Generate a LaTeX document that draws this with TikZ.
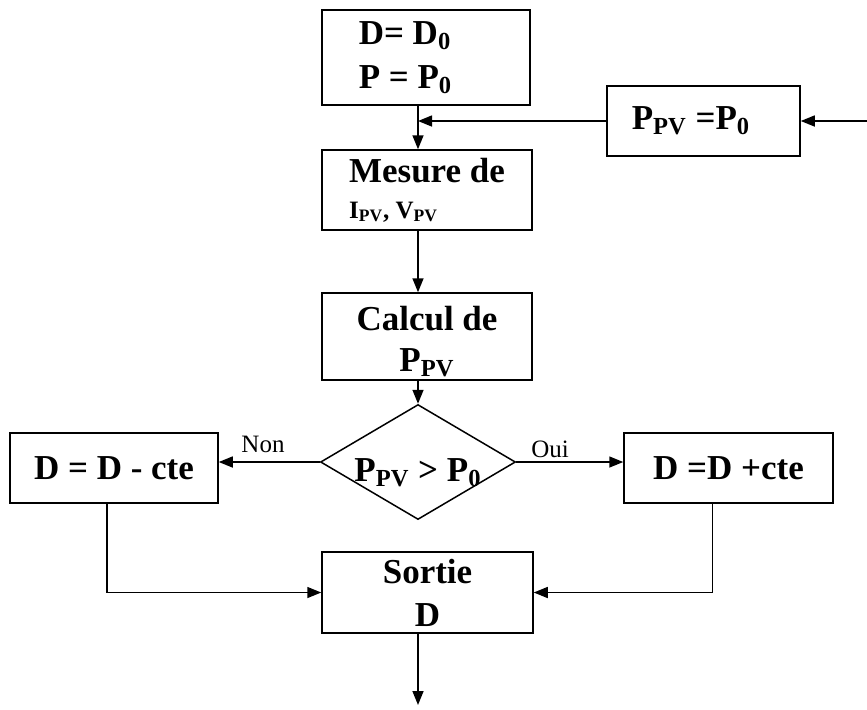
\documentclass[tikz,border=0pt]{standalone}
\usepackage{fontspec}
\setmainfont{Liberation Serif}
\usetikzlibrary{arrows.meta,positioning,shapes.geometric,calc}

\begin{document}
\begin{tikzpicture}[x=0.5pt,y=-0.5pt,line width=0.75pt,
  box/.style={draw,rectangle,inner sep=0pt,align=center,
    font=\bfseries\fontsize{17.5}{22}\selectfont},
  test/.style={draw,diamond,aspect=1.7,inner sep=0pt,
    minimum width=97.5pt,minimum height=57.5pt,
    font=\bfseries\fontsize{17.5}{20}\selectfont},
  lab/.style={font=\fontsize{12.5}{14}\selectfont},
  fleche/.style={-{Triangle[length=7pt,width=5.5pt]}}]
\useasboundingbox (0,0) rectangle (867,709);
% blocs
\node[box,align=left,minimum width=104pt,minimum height=47.5pt] (init) at (426,57.5)
  {D= D\textsubscript{0}\rule{21pt}{0pt}\\P = P\textsubscript{0}};
\node[box,align=left,minimum width=96.5pt,minimum height=35pt] (ppvinit) at (703.5,121)
  {P\textsubscript{PV} =P\textsubscript{0}\rule{12.5pt}{0pt}};
\node[box,align=left,minimum width=105pt,minimum height=40pt] (mesure) at (427,190)
  {Mesure de\\[-4pt]{\fontsize{12.5}{14}\selectfont I\textsubscript{PV}, V\textsubscript{PV}}};
\node[box,minimum width=105pt,minimum height=43.5pt] (calcul) at (427,336.5)
  {\rule{0pt}{17pt}Calcul de\\[-1.5pt]P\textsubscript{PV}};
\node[test] (test) at (418,462)
  {\smash{\raisebox{-9.5pt}{P\textsubscript{PV} > P\textsubscript{0}}}};
\node[box,minimum width=104pt,minimum height=35pt] (moins) at (114,468)
  {D = D - cte};
\node[box,minimum width=104.5pt,minimum height=35pt] (plus) at (728.5,468)
  {D =D +cte};
\node[box,minimum width=105.5pt,minimum height=40.5pt] (sortie) at (427.5,592.5)
  {Sortie\\[-0.5pt]D};
% etiquettes
\node[lab] (non) at (263,444) {Non};
\node[lab] (oui) at (550,449) {Oui};
% points auxiliaires
\coordinate (j) at (test.north |- ppvinit.west);
\coordinate (entree) at (867,121);
\coordinate (fin) at (418,705);
% liaisons
\draw[fleche] (test.north |- init.south) -- (test.north |- mesure.north);
\draw[fleche] (ppvinit.west) -- (j);
\draw[fleche] (entree) -- (ppvinit.east);
\draw[fleche] (test.north |- mesure.south) -- (test.north |- calcul.north);
\draw[fleche] (test.north |- calcul.south) -- (test.north);
\draw[fleche] (test.west) -- (test.west -| moins.east);
\draw[fleche] (test.east) -- (test.east -| plus.west);
\draw[fleche] ([xshift=-3.5pt]moins.south) |- (sortie.west);
\draw[fleche] ([xshift=-8pt]plus.south) |- (sortie.east);
\draw[fleche] (test.north |- sortie.south) -- (fin);
\end{tikzpicture}
\end{document}
